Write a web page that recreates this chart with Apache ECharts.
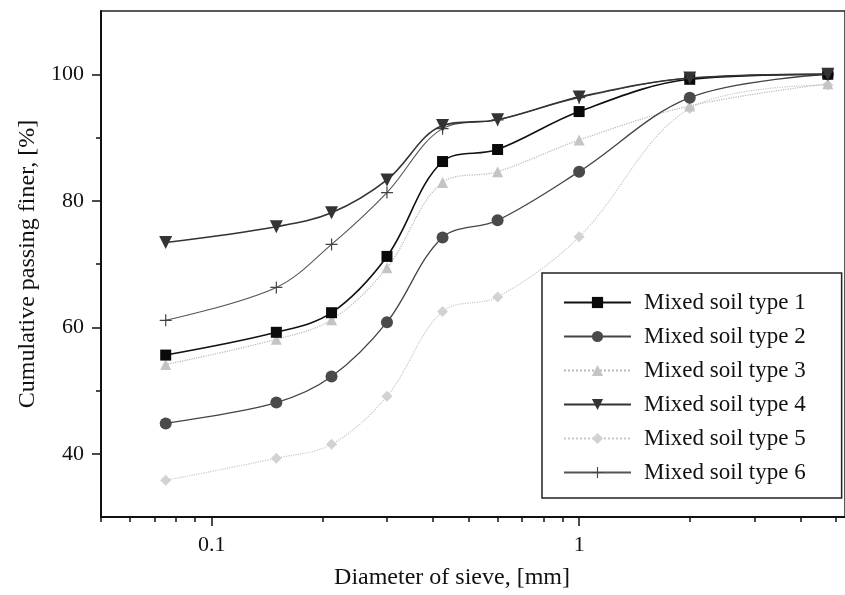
<!DOCTYPE html>
<html>
<head>
<meta charset="utf-8">
<script src="https://cdn.jsdelivr.net/npm/echarts@6/dist/echarts.min.js"></script>
<style>
  html, body { margin: 0; padding: 0; background: #fff; }
  #chart { width: 845px; height: 595px; }
</style>
</head>
<body>
<div id="chart"></div>
<script>
// sieve sizes, mm
const sieveSizes = [0.075, 0.15, 0.212, 0.3, 0.425, 0.6, 1, 2, 4.75];

// cumulative passing finer, %
const soilType1 = [55.6, 59.2, 62.3, 71.2, 86.2, 88.1, 94.1, 99.2, 100];
const soilType2 = [44.8, 48.1, 52.2, 60.8, 74.2, 76.9, 84.6, 96.3, 100];
const soilType3 = [54.1, 58.1, 61.2, 69.4, 82.9, 84.6, 89.6, 95.0, 98.5];
const soilType4 = [73.4, 75.9, 78.1, 83.3, 91.9, 92.8, 96.4, 99.4, 100];
const soilType5 = [35.8, 39.3, 41.5, 49.1, 62.5, 64.8, 74.3, 94.6, 98.3];
const soilType6 = [61.1, 66.3, 73.1, 81.3, 91.4, 92.8, 96.3, 99.4, 100];

const seriesNames = [
  'Mixed soil type 1', 'Mixed soil type 2', 'Mixed soil type 3',
  'Mixed soil type 4', 'Mixed soil type 5', 'Mixed soil type 6'
];

// axis ranges and ticks
const xMin = 0.05;
const xMax = 5.29;
const xMajorTicks = [0.1, 1];
const xMinorTicks = [0.05, 0.06, 0.07, 0.08, 0.09, 0.2, 0.3, 0.4, 0.5, 0.6, 0.7, 0.8, 0.9, 2, 3, 4, 5];
const yMin = 30;
const yMax = 110;
const yMajorTicks = [40, 60, 80, 100];
const yMinorTicks = [50, 70, 90];

const FONT = '"Liberation Serif", "Times New Roman", serif';
const PLUS = 'path://M9,0H11V9H20V11H11V20H9V11H0V9H9Z';

const toPairs = (vals) => sieveSizes.map((x, i) => [x, vals[i]]);

const makeSeries = (name, vals, opts) => ({
  name,
  type: 'line',
  data: toPairs(vals),
  smooth: 0.35,
  symbol: opts.symbol,
  symbolSize: opts.size,
  symbolRotate: opts.rotate || 0,
  lineStyle: { color: opts.line, width: opts.width, type: opts.dash || 'solid' },
  itemStyle: { color: opts.fill, borderWidth: 0 },
  z: opts.z || 2
});

const chart = echarts.init(document.getElementById('chart'), null, { renderer: 'canvas' });

const baseX = {
  type: 'log',
  min: xMin,
  max: xMax,
  position: 'bottom',
  gridIndex: 0,
  splitLine: { show: false }
};
const baseY = {
  type: 'value',
  min: yMin,
  max: yMax,
  position: 'left',
  gridIndex: 0,
  splitLine: { show: false }
};

chart.setOption({
  animation: false,
  backgroundColor: '#fff',
  textStyle: { fontFamily: FONT },
  grid: {
    left: 101, right: -3, top: 11, bottom: 77,
    show: true, borderColor: '#222', borderWidth: 1.5, backgroundColor: 'transparent'
  },
  legend: {
    orient: 'vertical',
    left: 542,
    top: 273,
    data: seriesNames,
    itemWidth: 67,
    itemHeight: 14,
    itemGap: 11,
    padding: [18, 36, 14, 21],
    borderColor: '#222',
    borderWidth: 1.5,
    backgroundColor: '#fff',
    textStyle: { fontFamily: FONT, fontSize: 23, color: '#111', lineHeight: 23, padding: [0, 0, 0, 8] }
  },
  xAxis: [
    Object.assign({}, baseX, {
      name: 'Diameter of sieve, [mm]',
      nameLocation: 'middle',
      nameGap: 49,
      nameTextStyle: { fontFamily: FONT, fontSize: 24, color: '#111', padding: [0, 42, 0, 0] },
      axisLine: { show: true, lineStyle: { color: '#111', width: 2 } },
      axisTick: { show: true, customValues: xMajorTicks, length: 9, lineStyle: { color: '#111', width: 1.5 } },
      axisLabel: {
        customValues: xMajorTicks,
        margin: 17,
        fontFamily: FONT, fontSize: 22, color: '#111',
        formatter: (v) => String(v)
      }
    }),
    Object.assign({}, baseX, {
      axisLine: { show: false },
      axisTick: { show: true, customValues: xMinorTicks, length: 5, lineStyle: { color: '#111', width: 1.5 } },
      axisLabel: { show: false }
    })
  ],
  yAxis: [
    Object.assign({}, baseY, {
      name: 'Cumulative passing finer, [%]',
      nameLocation: 'middle',
      nameGap: 60,
      nameTextStyle: { fontFamily: FONT, fontSize: 24, color: '#111' },
      axisLine: { show: true, lineStyle: { color: '#111', width: 2 } },
      axisTick: { show: true, customValues: yMajorTicks, length: 9, lineStyle: { color: '#111', width: 1.5 } },
      axisLabel: {
        customValues: yMajorTicks,
        margin: 17,
        fontFamily: FONT, fontSize: 22, color: '#111'
      }
    }),
    Object.assign({}, baseY, {
      axisLine: { show: false },
      axisTick: { show: true, customValues: yMinorTicks, length: 5, lineStyle: { color: '#111', width: 1.5 } },
      axisLabel: { show: false }
    })
  ],
  series: [
    makeSeries(seriesNames[0], soilType1, { symbol: 'rect', size: 11, line: '#111', width: 1.6, fill: '#0a0a0a', z: 5 }),
    makeSeries(seriesNames[1], soilType2, { symbol: 'circle', size: 12, line: '#444', width: 1.3, fill: '#4a4a4a', z: 4 }),
    makeSeries(seriesNames[2], soilType3, { symbol: 'triangle', size: 11, line: '#b8b8b8', width: 1.2, dash: 'dotted', fill: '#c4c4c4', z: 3 }),
    makeSeries(seriesNames[3], soilType4, { symbol: 'triangle', rotate: 180, size: 13, line: '#333', width: 1.6, fill: '#333', z: 6 }),
    makeSeries(seriesNames[4], soilType5, { symbol: 'diamond', size: 11, line: '#c8c8c8', width: 1.2, dash: 'dotted', fill: '#d2d2d2', z: 2 }),
    makeSeries(seriesNames[5], soilType6, { symbol: PLUS, size: 12, line: '#555', width: 1.1, fill: '#444', z: 4 })
  ]
});
</script>
</body>
</html>
